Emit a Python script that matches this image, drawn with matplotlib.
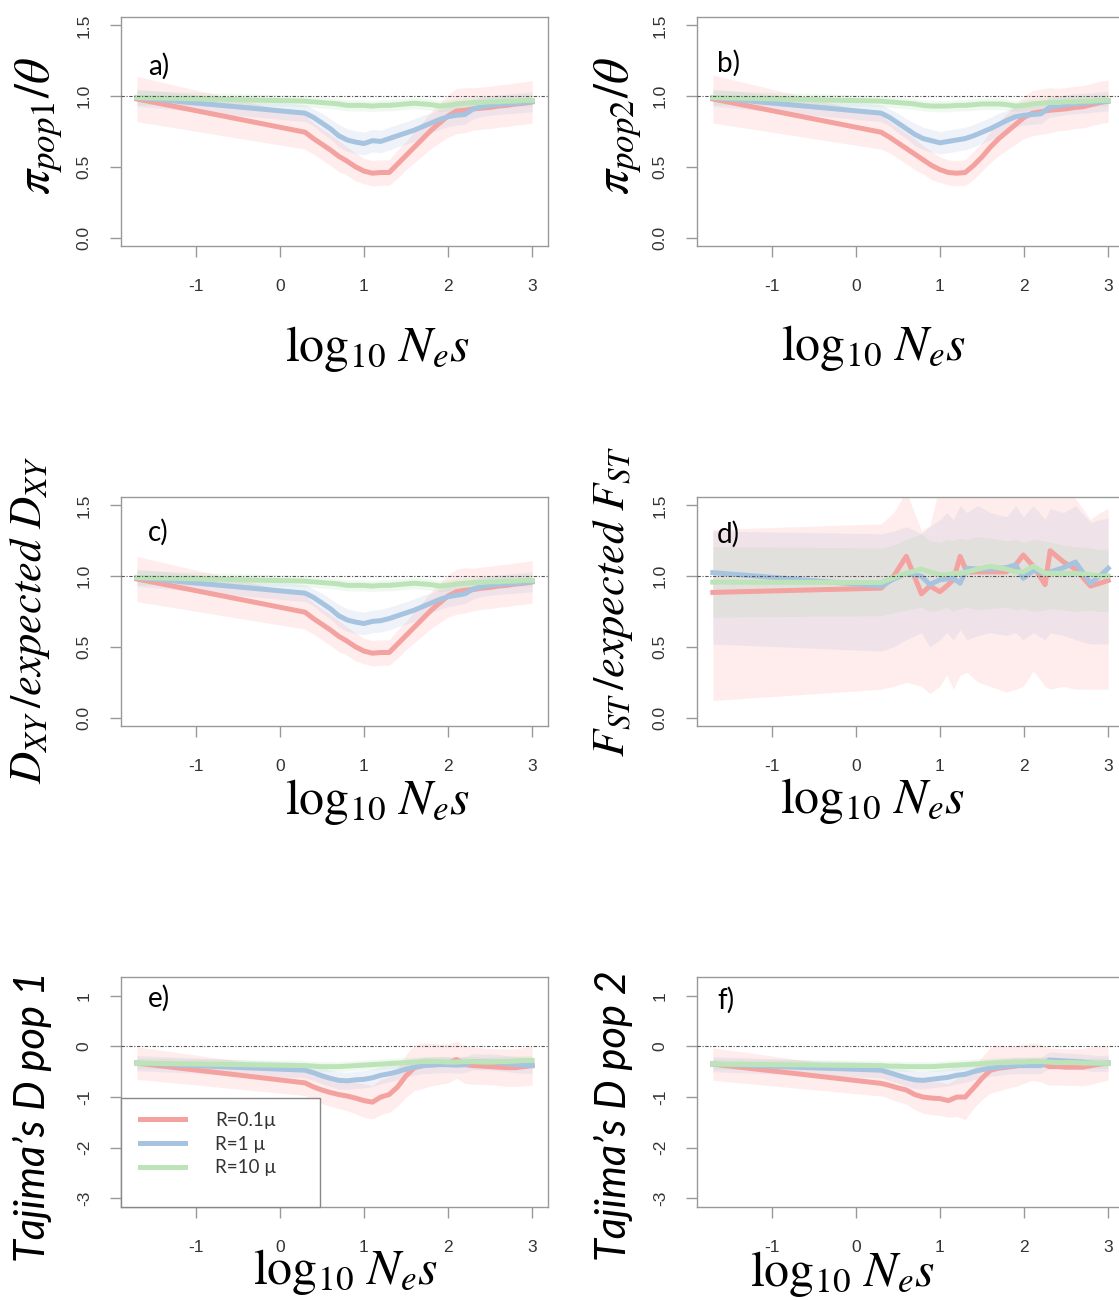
import matplotlib
matplotlib.use("Agg")
import matplotlib.pyplot as plt
from matplotlib.patches import Rectangle
from matplotlib.lines import Line2D
import numpy as np

plt.rcParams['mathtext.fontset'] = 'stix'
plt.rcParams['font.family'] = ['Liberation Sans', 'DejaVu Sans']

# ---------------- data ----------------
series_names = ["R=0.1\u00b5", "R=1 \u00b5", "R=10 \u00b5"]
x_ticks = [-1, 0, 1, 2, 3]

# common log10(Ne s) grid for panels a, b, c, e, f
x_grid = [-1.7, 0.3, 0.4, 0.5, 0.6, 0.7, 0.8, 0.9, 1.0, 1.1, 1.2, 1.3, 1.4, 1.5,
          1.6, 1.7, 1.8, 1.9, 2.0, 2.1, 2.2, 2.3, 2.4, 2.5, 2.6, 2.7, 2.8, 2.9, 3.0]

# panel a: pi pop1 / theta
a_red = [0.98, 0.745, 0.70, 0.66, 0.62, 0.575, 0.54, 0.50, 0.47, 0.455, 0.46, 0.46, 0.52, 0.58,
         0.64, 0.70, 0.76, 0.81, 0.86, 0.895, 0.90, 0.91, 0.915, 0.92, 0.93, 0.935, 0.945, 0.95, 0.96]
a_blue = [0.99, 0.88, 0.85, 0.81, 0.77, 0.72, 0.69, 0.675, 0.665, 0.685, 0.68, 0.70, 0.72, 0.74,
          0.76, 0.785, 0.81, 0.835, 0.855, 0.865, 0.87, 0.91, 0.925, 0.935, 0.94, 0.945, 0.95, 0.955, 0.96]
a_green = [0.99, 0.965, 0.96, 0.955, 0.95, 0.945, 0.935, 0.935, 0.935, 0.93, 0.935, 0.935, 0.94, 0.945,
           0.95, 0.945, 0.94, 0.93, 0.935, 0.945, 0.95, 0.955, 0.955, 0.96, 0.96, 0.965, 0.965, 0.97, 0.97]
a_red_sd = [0.16, 0.12, 0.11, 0.11, 0.11, 0.11, 0.10, 0.10, 0.09, 0.09, 0.09, 0.09, 0.10, 0.10,
            0.11, 0.12, 0.13, 0.14, 0.15, 0.16, 0.16, 0.15, 0.15, 0.15, 0.15, 0.15, 0.15, 0.15, 0.15]
a_blue_sd = [0.06, 0.06, 0.06, 0.07, 0.07, 0.08, 0.08, 0.08, 0.08, 0.08, 0.08, 0.08, 0.08, 0.08,
             0.08, 0.08, 0.07, 0.07, 0.07, 0.07, 0.07, 0.07, 0.07, 0.07, 0.07, 0.07, 0.07, 0.07, 0.07]
a_green_sd = [0.05, 0.04, 0.04, 0.04, 0.04, 0.04, 0.04, 0.04, 0.04, 0.04, 0.04, 0.04, 0.04, 0.04,
              0.04, 0.04, 0.04, 0.04, 0.04, 0.04, 0.04, 0.04, 0.04, 0.04, 0.04, 0.04, 0.04, 0.04, 0.04]

# panel b: pi pop2 / theta
b_red = [0.98, 0.745, 0.71, 0.67, 0.63, 0.59, 0.55, 0.51, 0.48, 0.46, 0.455, 0.46, 0.51, 0.57,
         0.64, 0.70, 0.75, 0.80, 0.85, 0.88, 0.89, 0.90, 0.905, 0.91, 0.92, 0.925, 0.94, 0.955, 0.965]
b_blue = [0.99, 0.88, 0.85, 0.81, 0.77, 0.73, 0.70, 0.685, 0.67, 0.68, 0.69, 0.70, 0.72, 0.745,
          0.77, 0.80, 0.83, 0.855, 0.865, 0.87, 0.875, 0.92, 0.93, 0.94, 0.945, 0.95, 0.955, 0.96, 0.965]
b_green = [0.99, 0.965, 0.96, 0.955, 0.95, 0.945, 0.935, 0.93, 0.93, 0.93, 0.935, 0.935, 0.94, 0.945,
           0.945, 0.945, 0.94, 0.93, 0.935, 0.945, 0.95, 0.955, 0.955, 0.96, 0.96, 0.965, 0.965, 0.97, 0.97]
b_red_sd = [0.17, 0.12, 0.11, 0.11, 0.11, 0.11, 0.10, 0.10, 0.09, 0.09, 0.09, 0.09, 0.10, 0.10,
            0.11, 0.12, 0.13, 0.14, 0.15, 0.16, 0.16, 0.16, 0.15, 0.15, 0.15, 0.15, 0.15, 0.15, 0.15]
b_blue_sd = a_blue_sd
b_green_sd = a_green_sd

# panel c: Dxy / expected Dxy
c_red = [0.98, 0.745, 0.70, 0.66, 0.62, 0.575, 0.54, 0.50, 0.47, 0.455, 0.46, 0.46, 0.52, 0.58,
         0.64, 0.70, 0.76, 0.81, 0.86, 0.89, 0.90, 0.905, 0.915, 0.92, 0.93, 0.935, 0.945, 0.95, 0.96]
c_blue = [0.99, 0.88, 0.85, 0.81, 0.77, 0.72, 0.69, 0.675, 0.665, 0.68, 0.685, 0.70, 0.72, 0.74,
          0.76, 0.785, 0.81, 0.835, 0.855, 0.865, 0.875, 0.91, 0.925, 0.935, 0.94, 0.945, 0.95, 0.955, 0.96]
c_green = a_green
c_red_sd = a_red_sd
c_blue_sd = a_blue_sd
c_green_sd = a_green_sd

# panel d: Fst / expected Fst (own grid)
d_x = [-1.7, 0.3, 0.45, 0.6, 0.78, 0.88, 1.0, 1.08, 1.16, 1.24, 1.32, 1.45, 1.6, 1.79,
       1.9, 1.99, 2.11, 2.25, 2.31, 2.47, 2.61, 2.79, 2.9, 3.0]
d_red = [0.885, 0.915, 1.0, 1.14, 0.875, 0.93, 0.89, 0.93, 0.975, 1.14, 1.03, 1.03, 1.03, 1.03,
         1.08, 1.15, 1.07, 0.94, 1.18, 1.10, 1.05, 0.93, 0.95, 0.97]
d_blue = [1.025, 0.93, 0.98, 1.02, 1.0, 0.94, 0.975, 0.98, 0.985, 0.95, 1.056, 1.05, 1.05, 1.06,
          1.08, 0.985, 1.04, 1.02, 1.03, 1.06, 1.10, 0.95, 1.0, 1.056]
d_green = [0.958, 0.955, 0.99, 1.02, 1.05, 1.03, 1.01, 1.01, 1.02, 1.02, 1.03, 1.05, 1.07, 1.05,
           1.03, 1.03, 1.07, 1.02, 1.02, 1.02, 1.02, 1.01, 1.0, 1.0]
d_red_lo = [0.12, 0.20, 0.22, 0.25, 0.22, 0.17, 0.22, 0.30, 0.20, 0.30, 0.32, 0.25, 0.22, 0.18,
            0.20, 0.22, 0.33, 0.22, 0.20, 0.22, 0.20, 0.20, 0.20, 0.20]
d_red_hi = [1.33, 1.37, 1.45, 1.60, 1.32, 1.36, 1.65, 1.70, 1.62, 1.70, 1.70, 1.70, 1.65, 1.70,
            1.70, 1.65, 1.70, 1.60, 1.70, 1.70, 1.55, 1.40, 1.45, 1.48]
d_blue_lo = [0.52, 0.47, 0.50, 0.55, 0.60, 0.50, 0.55, 0.60, 0.55, 0.62, 0.55, 0.58, 0.60, 0.58,
             0.60, 0.55, 0.60, 0.55, 0.60, 0.58, 0.55, 0.52, 0.52, 0.52]
d_blue_hi = [1.32, 1.30, 1.32, 1.35, 1.30, 1.35, 1.40, 1.45, 1.40, 1.50, 1.45, 1.50, 1.45, 1.42,
             1.50, 1.42, 1.50, 1.40, 1.48, 1.45, 1.50, 1.38, 1.40, 1.41]
d_green_lo = [0.71, 0.72, 0.74, 0.76, 0.78, 0.75, 0.76, 0.78, 0.75, 0.77, 0.78, 0.76, 0.77, 0.78,
              0.76, 0.77, 0.75, 0.76, 0.77, 0.76, 0.75, 0.76, 0.75, 0.75]
d_green_hi = [1.21, 1.20, 1.22, 1.26, 1.30, 1.25, 1.24, 1.26, 1.25, 1.27, 1.26, 1.28, 1.27, 1.25,
              1.26, 1.24, 1.26, 1.25, 1.24, 1.22, 1.21, 1.20, 1.19, 1.19]

# panel e: Tajima's D pop 1
e_red = [-0.33, -0.72, -0.80, -0.86, -0.91, -0.95, -0.98, -1.02, -1.07, -1.10, -1.00, -0.95, -0.80, -0.58,
         -0.42, -0.38, -0.36, -0.35, -0.34, -0.26, -0.36, -0.38, -0.39, -0.40, -0.41, -0.42, -0.42, -0.40, -0.38]
e_blue = [-0.33, -0.47, -0.52, -0.58, -0.63, -0.67, -0.68, -0.66, -0.65, -0.62, -0.57, -0.54, -0.50, -0.45,
          -0.41, -0.38, -0.37, -0.36, -0.36, -0.37, -0.36, -0.30, -0.31, -0.31, -0.32, -0.34, -0.36, -0.37, -0.38]
e_green = [-0.33, -0.38, -0.39, -0.40, -0.40, -0.40, -0.39, -0.38, -0.37, -0.36, -0.35, -0.34, -0.33, -0.32,
           -0.31, -0.30, -0.30, -0.30, -0.31, -0.31, -0.30, -0.30, -0.31, -0.31, -0.30, -0.30, -0.29, -0.28, -0.28]
e_red_sd = [0.32, 0.25, 0.26, 0.27, 0.27, 0.28, 0.29, 0.31, 0.33, 0.33, 0.35, 0.35, 0.38, 0.42,
            0.45, 0.45, 0.42, 0.40, 0.38, 0.37, 0.37, 0.37, 0.36, 0.36, 0.36, 0.37, 0.37, 0.38, 0.38]
e_blue_sd = [0.15, 0.15, 0.15, 0.16, 0.16, 0.17, 0.17, 0.17, 0.17, 0.17, 0.17, 0.16, 0.16, 0.16,
             0.16, 0.16, 0.16, 0.16, 0.16, 0.16, 0.16, 0.16, 0.16, 0.16, 0.16, 0.16, 0.16, 0.16, 0.16]
e_green_sd = [0.10, 0.10, 0.10, 0.10, 0.10, 0.10, 0.10, 0.10, 0.10, 0.10, 0.10, 0.10, 0.10, 0.10,
              0.10, 0.10, 0.10, 0.10, 0.10, 0.10, 0.10, 0.10, 0.10, 0.10, 0.10, 0.10, 0.10, 0.10, 0.10]

# panel f: Tajima's D pop 2
f_red = [-0.35, -0.73, -0.77, -0.82, -0.86, -0.95, -1.00, -1.02, -1.03, -1.07, -1.00, -1.00, -0.82, -0.63,
         -0.47, -0.43, -0.41, -0.39, -0.35, -0.30, -0.33, -0.40, -0.40, -0.41, -0.41, -0.41, -0.38, -0.35, -0.33]
f_blue = [-0.35, -0.47, -0.52, -0.57, -0.62, -0.66, -0.67, -0.65, -0.63, -0.61, -0.57, -0.55, -0.50, -0.46,
          -0.43, -0.41, -0.39, -0.38, -0.38, -0.38, -0.38, -0.27, -0.28, -0.29, -0.30, -0.31, -0.33, -0.34, -0.33]
f_green = [-0.35, -0.38, -0.39, -0.39, -0.40, -0.40, -0.40, -0.40, -0.39, -0.38, -0.37, -0.36, -0.35, -0.34,
           -0.33, -0.32, -0.32, -0.31, -0.31, -0.30, -0.30, -0.31, -0.32, -0.32, -0.32, -0.33, -0.33, -0.33, -0.33]
f_red_sd = [0.32, 0.25, 0.26, 0.27, 0.28, 0.30, 0.32, 0.33, 0.33, 0.33, 0.38, 0.45, 0.40, 0.42,
            0.45, 0.45, 0.42, 0.40, 0.38, 0.37, 0.37, 0.37, 0.36, 0.36, 0.36, 0.37, 0.37, 0.35, 0.33]
f_blue_sd = e_blue_sd
f_green_sd = e_green_sd

ratio_ticks = [0.0, 0.5, 1.0, 1.5]
ratio_ticklabels = ["0.0", "0.5", "1.0", "1.5"]
taj_ticks = [-3, -2, -1, 0, 1]
taj_ticklabels = ["-3", "-2", "-1", "0", "1"]

# ---------------- style ----------------
line_cols = ['#F4A29F', '#A6C3E0', '#BCE4B8']
band_cols = [(1.0, 0.47, 0.47, 0.13), (0.40, 0.55, 0.80, 0.10), (0.45, 0.80, 0.45, 0.10)]

W, H = 1119, 1300
fig = plt.figure(figsize=(W / 100, H / 100), dpi=100)

def add_ax(L, T, R, B):
    return fig.add_axes([L / W, 1 - B / H, (R - L) / W, (B - T) / H])

def style(ax, ylim, yticks, yticklabels, ref):
    ax.set_xlim(-1.888, 3.188)
    ax.set_ylim(*ylim)
    ax.set_xticks(x_ticks)
    ax.set_xticklabels([str(t) for t in x_ticks])
    ax.set_yticks(yticks)
    ax.set_yticklabels(yticklabels, rotation=90, va='center')
    for sp in ax.spines.values():
        sp.set_color('#999999')
        sp.set_linewidth(1.0)
    ax.tick_params(axis='x', direction='out', length=8, width=1, color='#999999',
                   labelsize=12.5, labelcolor='#333333', pad=16)
    ax.tick_params(axis='y', direction='out', length=8, width=1, color='#999999',
                   labelsize=12.5, labelcolor='#333333', pad=13)
    ax.axhline(ref, color='#555555', lw=0.8, ls=(0, (3, 1.5, 1, 1.5)), zorder=5)

def draw_sd(ax, x, means, sds):
    for m, s, bc in zip(means, sds, band_cols):
        m = np.array(m); s = np.array(s)
        ax.fill_between(x, m - s, m + s, color=bc, lw=0, zorder=1)
    for m, lc in zip(means, line_cols):
        ax.plot(x, m, color=lc, lw=3.6, solid_joinstyle='round', zorder=3)

def draw_lohi(ax, x, means, los, his):
    for lo, hi, bc in zip(los, his, band_cols):
        ax.fill_between(x, lo, hi, color=bc, lw=0, zorder=1)
    for m, lc in zip(means, line_cols):
        ax.plot(x, m, color=lc, lw=3.6, solid_joinstyle='round', zorder=3)

ratio_lim = (-0.06, 1.56)
taj_lim = (-3.168, 1.368)

axa = add_ax(121, 17, 548, 246)
draw_sd(axa, x_grid, [a_red, a_blue, a_green], [a_red_sd, a_blue_sd, a_green_sd])
style(axa, ratio_lim, ratio_ticks, ratio_ticklabels, 1.0)

axb = add_ax(697, 17, 1124, 246)
draw_sd(axb, x_grid, [b_red, b_blue, b_green], [b_red_sd, b_blue_sd, b_green_sd])
style(axb, ratio_lim, ratio_ticks, ratio_ticklabels, 1.0)

axc = add_ax(121, 497, 548, 726)
draw_sd(axc, x_grid, [c_red, c_blue, c_green], [c_red_sd, c_blue_sd, c_green_sd])
style(axc, ratio_lim, ratio_ticks, ratio_ticklabels, 1.0)

axd = add_ax(697, 497, 1124, 726)
draw_lohi(axd, d_x, [d_red, d_blue, d_green], [d_red_lo, d_blue_lo, d_green_lo],
          [d_red_hi, d_blue_hi, d_green_hi])
style(axd, ratio_lim, ratio_ticks, ratio_ticklabels, 1.0)

axe = add_ax(121, 977, 548, 1207)
draw_sd(axe, x_grid, [e_red, e_blue, e_green], [e_red_sd, e_blue_sd, e_green_sd])
style(axe, taj_lim, taj_ticks, taj_ticklabels, 0.0)

axf = add_ax(697, 977, 1124, 1207)
draw_sd(axf, x_grid, [f_red, f_blue, f_green], [f_red_sd, f_blue_sd, f_green_sd])
style(axf, taj_lim, taj_ticks, taj_ticklabels, 0.0)

# legend box in panel e
axe.add_patch(Rectangle((0, 0), 199 / 427, 109 / 230, transform=axe.transAxes,
                        facecolor='white', edgecolor='#888888', lw=1.0, zorder=10,
                        clip_on=False))
handles = [Line2D([], [], color=c, lw=3.6) for c in line_cols]
leg = axe.legend(handles, series_names, loc='upper left',
                 bbox_to_anchor=(19 / 427, 1 - (1112 - 977) / 230),
                 frameon=False, borderpad=0, borderaxespad=0, handlelength=2.4,
                 handletextpad=1.6, labelspacing=0.35,
                 prop={'family': ['Lato', 'DejaVu Sans'], 'size': 13.5})
leg.set_zorder(11)
for t in leg.get_texts():
    t.set_color('#333333')

# panel labels
for lab, (px, py) in zip(["a)", "b)", "c)", "d)", "e)", "f)"],
                         [(148, 66), (717, 63), (148, 532), (717, 534), (148, 998), (717, 1000)]):
    fig.text(px / W, 1 - py / H, lab, fontsize=20, family=['Lato', 'DejaVu Sans'],
             ha='left', va='center', color='black')

# x labels
xl = r'$\log_{10}\,N_e s$'
for (px, py) in [(378, 349), (874, 348), (378, 802), (873, 801), (346, 1272), (843, 1274)]:
    fig.text(px / W, 1 - py / H, xl, fontsize=36, ha='center', va='center')

# y labels
ylabs = [(r'$\pi_{pop1}/\theta$', 39, 126, 'math', 36),
         (r'$\pi_{pop2}/\theta$', 618, 126, 'math', 36),
         (r'$D_{XY}\,/expected\ D_{XY}$', 30, 620, 'math', 32),
         (r'$F_{ST}\,/expected\ F_{ST}$', 613, 602, 'math', 32),
         ('Tajima\u2019s D pop 1', 32, 1117, 'sans', 30),
         ('Tajima\u2019s D pop 2', 613, 1116, 'sans', 30)]
for txt, px, py, kind, fs in ylabs:
    if kind == 'sans':
        fig.text(px / W, 1 - py / H, txt, fontsize=fs, rotation=90, ha='center', va='center',
                 family=['Lato', 'DejaVu Sans'], style='italic')
    else:
        fig.text(px / W, 1 - py / H, txt, fontsize=fs, rotation=90, ha='center', va='center')

fig.savefig('out.png', dpi=100)
